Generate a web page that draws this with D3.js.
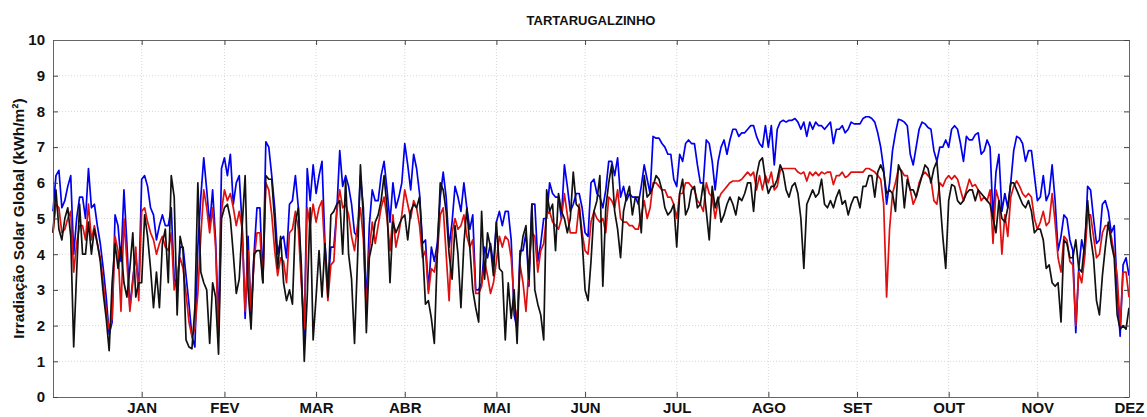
<!DOCTYPE html>
<html>
<head>
<meta charset="utf-8">
<script src="https://cdn.jsdelivr.net/npm/d3@7"></script>
<style>
  body { margin: 0; background: #fff; }
  text { font-family: "Liberation Sans", Arial, sans-serif; font-weight: bold; }
</style>
</head>
<body>
<script>
var width = 1147;
var height = 417;
var marginLeft = 53;
var marginRight = 18;
var marginTop = 40;
var marginBottom = 20;

var title = "TARTARUGALZINHO";
var yLabel = "Irradiação Solar Global (kWh/m²)";

// month labels, placed at the last day of each month
var months = ["JAN", "FEV", "MAR", "ABR", "MAI", "JUN", "JUL", "AGO", "SET", "OUT", "NOV", "DEZ"];
var monthEndDays = [31, 59, 90, 120, 151, 181, 212, 243, 273, 304, 334, 365];
var yTicks = [0, 1, 2, 3, 4, 5, 6, 7, 8, 9, 10];

// daily values (kWh/m²), day 1..365
var blueSeries = [
  5.2, 6.2, 6.35, 5.3, 5.5, 5.9, 6.2, 4.0, 5.0, 5.6,
  5.6, 5.0, 6.4, 5.3, 5.4, 4.8, 4.3, 3.6, 2.8, 1.75,
  2.1, 5.1, 4.8, 3.8, 5.8, 4.3, 2.5, 3.3, 4.0, 3.0,
  6.1, 6.2, 5.9, 5.3, 5.1, 4.4, 4.8, 5.1, 4.8, 4.8,
  5.3, 3.3, 3.1, 4.2, 4.2, 3.4, 2.6, 1.7, 1.4, 4.2,
  5.6, 6.7, 5.8, 4.8, 5.8, 4.4, 2.0, 6.4, 6.7, 6.2,
  6.8, 5.4, 6.0, 6.2, 4.8, 2.2, 4.5, 2.2, 4.0, 5.3,
  5.3, 3.2, 7.15, 7.0, 6.2, 5.3, 4.0, 4.4, 4.5, 3.9,
  5.4, 5.5, 6.2, 5.3, 3.4, 1.6, 6.4, 5.5, 6.5, 5.7,
  6.2, 6.6, 4.3, 3.1, 4.2, 4.2, 5.2, 6.9, 5.9, 6.2,
  5.9, 5.4, 4.6, 4.5, 6.2, 5.3, 2.5, 4.8, 5.8, 5.5,
  5.5, 6.2, 6.6, 5.8, 4.9, 6.0, 5.3, 5.6, 6.0, 7.1,
  6.5, 5.8, 6.8, 6.4, 5.7, 4.3, 4.4, 3.0, 4.2, 3.8,
  4.3, 5.6, 6.3, 5.6, 4.2, 4.9, 5.9, 5.6, 5.2, 6.0,
  5.3, 4.7, 5.1, 3.0, 3.0, 3.2, 4.2, 3.9, 4.3, 3.7,
  4.9, 5.2, 4.8, 5.2, 5.2, 4.4, 2.3, 1.9, 4.1, 4.1,
  4.6, 3.1, 5.4, 5.4, 3.8, 4.3, 5.0, 5.0, 6.0, 5.7,
  5.6, 5.6, 5.0, 6.5, 5.9, 5.2, 5.4, 5.7, 5.7, 5.3,
  4.6, 4.5, 6.0, 6.1, 5.7, 5.6, 5.3, 5.8, 6.6, 6.6,
  6.2, 6.7, 5.6, 5.9, 5.5, 5.7, 5.6, 5.6, 5.4, 5.9,
  6.5, 6.1, 5.7, 7.3, 7.25, 7.25, 7.1, 7.0, 6.8, 6.8,
  6.1, 5.9, 6.8, 6.6, 7.1, 7.2, 7.1, 7.1, 6.5, 6.0,
  6.0, 7.2, 7.1, 6.6, 5.8, 6.6, 7.0, 7.2, 6.8, 7.2,
  7.5, 7.5, 7.3, 7.4, 7.4, 7.5, 7.6, 7.6, 7.3, 7.1,
  7.0, 7.6, 7.0, 7.6, 6.5, 7.5, 7.7, 7.75, 7.7, 7.75,
  7.75, 7.8, 7.7, 7.5, 7.7, 7.3, 7.7, 7.5, 7.7, 7.6,
  7.6, 7.5, 7.6, 7.7, 7.1, 7.5, 7.5, 7.6, 7.4, 7.5,
  7.7, 7.65, 7.65, 7.65, 7.8, 7.85, 7.85, 7.8, 7.7, 7.4,
  7.0, 6.4, 5.4, 6.0, 6.9, 7.4, 7.78, 7.75, 7.7, 7.6,
  6.8, 6.5, 7.0, 7.5, 7.7, 7.65, 7.55, 7.5, 6.9, 6.6,
  7.0, 7.0, 7.2, 7.0, 7.5, 7.6, 7.5, 7.1, 6.6, 7.3,
  7.2, 7.2, 7.35, 7.4, 6.8, 6.9, 7.2, 7.0, 5.0, 6.3,
  6.8, 5.2, 5.7, 5.3, 6.0, 6.9, 7.3, 7.25, 7.1, 6.6,
  6.9, 6.9, 6.2, 5.5, 5.6, 6.2, 5.5, 5.7, 6.5, 5.5,
  4.1, 4.5, 5.1, 5.0, 4.4, 4.1, 1.8, 3.6, 4.4, 4.0,
  5.9, 5.8, 5.0, 4.3, 4.4, 5.4, 5.5, 5.2, 4.6, 4.8,
  3.0, 1.7, 3.7, 3.9, 3.4
];

var redSeries = [
  4.6, 5.4, 5.3, 4.6, 4.7, 5.0, 5.2, 3.5, 4.3, 4.8,
  4.8, 4.4, 5.4, 4.4, 4.8, 4.3, 3.9, 3.2, 2.4, 1.9,
  2.2, 4.5, 4.1, 2.4, 5.0, 3.8, 2.4, 3.2, 4.2, 2.7,
  5.2, 5.3, 4.9, 4.6, 4.4, 4.0, 4.3, 4.5, 4.2, 4.1,
  4.6, 3.0, 3.4, 3.9, 3.6, 2.9, 2.1, 1.7, 1.9, 2.9,
  4.5, 5.8, 5.3, 4.6, 5.3, 4.2, 1.7, 5.2, 5.8, 5.5,
  5.7, 5.3, 4.8, 5.2, 4.7, 2.4, 4.1, 2.4, 3.8, 4.6,
  4.6, 3.2, 6.0, 5.8, 5.1, 4.1, 3.4, 3.9, 3.8, 3.2,
  4.6, 4.7, 5.2, 4.7, 3.2, 1.9, 5.3, 4.8, 5.4, 4.9,
  5.3, 5.5, 4.0, 2.7, 3.7, 3.8, 5.2, 5.8, 5.3, 5.4,
  5.1, 4.5, 4.1, 4.8, 5.3, 4.4, 2.4, 4.1, 4.9, 4.3,
  4.8, 5.3, 5.6, 5.0, 4.1, 5.1, 4.2, 4.6, 5.1, 5.8,
  5.4, 5.0, 5.5, 5.3, 4.8, 3.9, 4.1, 2.9, 3.6, 3.5,
  4.0, 5.1, 5.3, 4.0, 2.7, 4.6, 5.0, 4.7, 4.8, 5.1,
  4.5, 4.2, 4.4, 2.9, 2.9, 3.1, 3.8, 3.4, 2.9, 3.2,
  3.8, 4.5, 4.2, 4.5, 4.4, 3.9, 2.7, 2.1, 3.7, 3.2,
  2.4, 3.6, 4.6, 4.5, 3.5, 4.1, 4.3, 5.1, 5.2, 4.9,
  4.8, 4.7, 5.0, 5.7, 5.1, 4.6, 4.6, 4.6, 5.4, 4.6,
  4.1, 4.0, 4.9, 5.2, 5.0, 4.9, 5.0, 4.6, 5.6, 5.5,
  5.3, 5.8, 5.0, 4.9, 4.9, 4.8, 4.8, 4.7, 4.7, 5.1,
  5.5, 5.0, 5.3, 6.0, 6.0, 5.9, 5.8, 5.8, 5.6, 5.6,
  5.4, 5.0, 5.7, 5.7, 6.0, 6.0, 5.9, 5.8, 5.5, 5.4,
  5.2, 6.0, 5.7, 5.6, 5.0, 5.5, 5.7, 5.8, 5.9, 6.0,
  6.05, 6.05, 6.05, 6.1, 6.2, 6.3, 6.2, 6.3, 5.8, 6.2,
  5.8, 6.2, 6.0, 6.3, 5.8, 5.9, 6.35, 6.4, 6.4, 6.4,
  6.4, 6.4, 6.3, 6.25, 6.3, 6.05, 6.3, 6.2, 6.3, 6.2,
  6.3, 6.25, 6.3, 6.3, 5.95, 6.2, 6.2, 6.3, 6.15, 6.2,
  6.3, 6.3, 6.3, 6.3, 6.3, 6.4, 6.4, 6.35, 6.3, 6.2,
  6.1, 5.4, 2.8, 4.7, 5.7, 6.0, 6.4, 6.35, 6.2, 6.2,
  5.8, 5.4, 5.6, 6.0, 6.2, 6.3, 6.2, 6.1, 5.5, 5.4,
  6.0, 5.9, 6.1, 6.2, 6.1, 6.2, 6.1, 5.8, 5.5, 5.8,
  6.1, 5.9, 5.95, 5.8, 5.5, 5.6, 5.5, 5.8, 4.3, 5.8,
  5.5, 4.0, 5.1, 4.5, 5.6, 5.9, 6.05, 5.9, 5.7, 5.6,
  5.7, 5.6, 5.0, 4.7, 4.9, 5.2, 4.8, 4.9, 5.7, 4.9,
  3.9, 3.5, 4.5, 4.4, 3.8, 3.7, 2.0, 3.5, 3.2, 3.9,
  5.1, 5.1, 4.5, 3.9, 4.0, 4.6, 4.8, 4.8, 4.5, 4.0,
  3.4, 2.0, 3.5, 3.5, 2.8
];

var blackSeries = [
  4.6, 5.8, 4.7, 4.4, 5.0, 5.3, 4.5, 1.4, 3.5, 5.4,
  4.0, 4.0, 4.9, 4.0, 4.7, 4.3, 3.8, 2.9, 2.2, 1.3,
  3.2, 4.3, 3.6, 4.2, 3.2, 2.8, 3.6, 4.6, 2.8, 3.2,
  3.2, 5.1, 4.5, 3.6, 2.5, 3.5, 2.5, 4.3, 4.7, 3.2,
  6.2, 5.6, 2.3, 4.5, 4.1, 1.6, 1.4, 1.35, 2.5, 6.0,
  3.5, 3.2, 3.0, 1.5, 3.2, 2.8, 1.2, 5.0, 5.3, 5.4,
  5.0, 4.0, 2.9, 3.3, 4.8, 6.2, 3.0, 1.9, 4.0, 4.1,
  4.1, 3.2, 6.2, 6.1, 6.1, 4.9, 3.6, 4.5, 3.2, 2.7,
  3.0, 2.6, 4.9, 5.3, 3.7, 1.0, 2.8, 5.3, 1.6, 2.8,
  4.1, 2.8, 4.3, 2.8, 5.1, 5.2, 5.4, 5.5, 4.0, 6.1,
  4.0, 3.3, 1.5, 3.8, 6.5, 5.0, 1.8, 3.9, 4.3, 4.9,
  5.1, 5.5, 6.2, 5.3, 3.2, 4.9, 4.6, 4.8, 5.0, 5.1,
  4.4, 5.2, 5.4, 5.3, 5.6, 4.2, 2.6, 2.7, 2.2, 1.5,
  4.0, 6.0, 5.8, 5.2, 4.0, 3.3, 4.8, 4.0, 2.5, 4.3,
  5.3, 4.2, 3.0, 2.5, 2.1, 5.2, 3.3, 4.6, 4.2, 3.4,
  4.9, 3.6, 3.5, 1.6, 3.2, 2.2, 3.0, 1.5, 3.9, 4.5,
  4.8, 3.3, 5.4, 3.0, 2.6, 2.3, 1.6, 5.8, 5.2, 5.4,
  4.1, 5.7, 5.2, 5.0, 4.6, 5.0, 6.3, 5.4, 5.3, 4.4,
  3.0, 2.7, 3.8, 5.2, 5.5, 6.2, 3.1, 5.3, 6.0, 6.5,
  5.2, 4.7, 3.9, 5.2, 5.6, 5.9, 5.1, 5.6, 5.6, 4.6,
  6.2, 5.6, 5.7, 5.9, 6.2, 6.1, 5.8, 5.3, 5.1, 5.2,
  5.4, 4.2, 5.7, 6.1, 5.1, 5.3, 5.8, 5.9, 5.3, 5.4,
  6.0, 5.2, 4.4, 5.9, 5.3, 5.6, 4.9, 5.1, 5.4, 5.6,
  5.4, 5.1, 5.6, 5.5, 5.7, 6.0, 6.0, 5.2, 6.2, 6.6,
  6.7, 6.1, 5.7, 5.9, 5.9, 6.1, 6.5, 6.3, 5.8, 5.6,
  5.9, 6.0, 5.7, 5.0, 3.6, 5.4, 5.6, 5.8, 5.6, 5.7,
  6.1, 5.4, 5.3, 5.5, 5.3, 5.6, 5.8, 5.4, 5.5, 5.1,
  5.4, 5.6, 5.6, 5.3, 5.9, 5.9, 6.2, 6.2, 5.6, 6.3,
  6.5, 6.3, 5.7, 5.8, 5.7, 5.2, 6.5, 6.3, 5.3, 6.1,
  5.8, 5.8, 5.6, 5.9, 6.2, 6.5, 6.4, 6.0, 6.4, 6.6,
  5.6, 4.5, 3.6, 5.5, 5.95, 5.9, 5.5, 5.4, 5.5, 5.7,
  5.8, 5.8, 5.5, 5.8, 5.7, 5.6, 5.5, 5.4, 5.0, 4.6,
  5.5, 5.0, 4.9, 5.3, 6.0, 6.0, 5.8, 5.6, 5.4, 5.3,
  5.5, 5.2, 4.6, 4.7, 4.7, 4.4, 3.6, 3.7, 3.2, 3.1,
  3.2, 2.1, 4.4, 4.3, 3.9, 3.9, 4.4, 3.6, 3.5, 4.3,
  5.5, 4.5, 3.9, 2.7, 2.3, 3.4, 4.2, 4.9, 4.3, 3.9,
  2.3, 1.9, 2.0, 1.9, 2.5
];

var series = [
  { name: "blue", color: "#0000ee", values: blueSeries },
  { name: "red", color: "#e01010", values: redSeries },
  { name: "black", color: "#111111", values: blackSeries }
];

let svg = d3.select("body")
            .append("svg")
            .attr("width", width)
            .attr("height", height);

var xScale = d3.scaleLinear()
      .domain([1, 365])
      .range([marginLeft, width - marginRight]);

var yScale = d3.scaleLinear()
      .domain([0, 10])
      .range([height - marginBottom, marginTop]);

var plotLeft = xScale.range()[0], plotRight = xScale.range()[1];
var plotTop = yScale.range()[1], plotBottom = yScale.range()[0];

// dotted grid
svg.append("g")
    .selectAll("line")
    .data(yTicks.slice(1, -1))
    .join("line")
      .attr("x1", plotLeft).attr("x2", plotRight)
      .attr("y1", d => yScale(d)).attr("y2", d => yScale(d))
      .attr("stroke", "#d8d8d8")
      .attr("stroke-dasharray", "1,2");

svg.append("g")
    .selectAll("line")
    .data(monthEndDays.slice(0, -1))
    .join("line")
      .attr("x1", d => xScale(d)).attr("x2", d => xScale(d))
      .attr("y1", plotTop).attr("y2", plotBottom)
      .attr("stroke", "#d8d8d8")
      .attr("stroke-dasharray", "1,2");

// lines
var line = d3.line()
    .x((d, i) => xScale(i + 1))
    .y(d => yScale(d));

svg.selectAll(".serie")
    .data(series)
    .join("path")
      .attr("class", "serie")
      .attr("fill", "none")
      .attr("stroke", d => d.color)
      .attr("stroke-width", 1.7)
      .attr("stroke-linejoin", "round")
      .attr("d", d => line(d.values));

// axes (ticks pointing inwards, mirrored on top/right)
var xAxis = d3.axisBottom(xScale)
    .tickValues(monthEndDays)
    .tickFormat((d, i) => months[i])
    .tickSizeInner(-5)
    .tickSizeOuter(0)
    .tickPadding(5);

var yAxis = d3.axisLeft(yScale)
    .tickValues(yTicks)
    .tickSizeInner(-5)
    .tickSizeOuter(0)
    .tickPadding(8);

var gx = svg.append("g")
    .attr("transform", `translate(0,${plotBottom})`)
    .call(xAxis);

var gy = svg.append("g")
    .attr("transform", `translate(${plotLeft},0)`)
    .call(yAxis);

svg.append("g")
    .attr("transform", `translate(0,${plotTop})`)
    .call(d3.axisTop(xScale).tickValues(monthEndDays).tickFormat("").tickSizeInner(-5).tickSizeOuter(0));

svg.append("g")
    .attr("transform", `translate(${plotRight},0)`)
    .call(d3.axisRight(yScale).tickValues(yTicks).tickFormat("").tickSizeInner(-5).tickSizeOuter(0));

svg.selectAll(".domain").attr("stroke", "#666");
svg.selectAll(".tick line").attr("stroke", "#444");

gx.selectAll("text")
    .attr("font-size", 15)
    .attr("fill", "#111");
gy.selectAll("text")
    .attr("font-size", 15)
    .attr("fill", "#111");

// title and y label
svg.append("text")
    .attr("x", (plotLeft + plotRight) / 2)
    .attr("y", 25)
    .attr("text-anchor", "middle")
    .attr("font-size", 13)
    .attr("fill", "#111")
    .text(title);

svg.append("text")
    .attr("transform", `translate(24,${(plotTop + plotBottom) / 2}) rotate(-90)`)
    .attr("text-anchor", "middle")
    .attr("font-size", 15.5)
    .attr("fill", "#111")
    .text(yLabel);
</script>
</body>
</html>
